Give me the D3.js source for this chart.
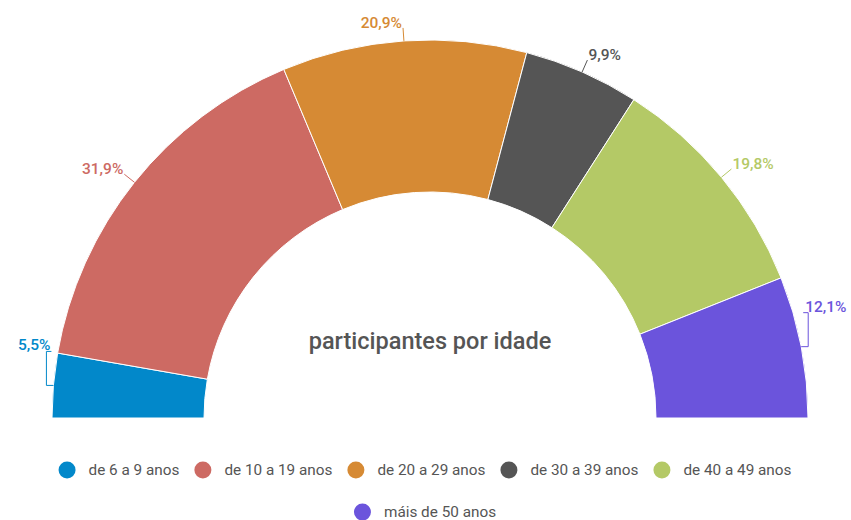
<!DOCTYPE html>
<html>
<head>
<meta charset="utf-8">
<script src="https://cdn.jsdelivr.net/npm/d3@7/dist/d3.min.js"></script>
<style>
  html, body { margin: 0; padding: 0; background: #fff; }
  svg { display: block; font-family: Roboto, "Open Sans", sans-serif; }
</style>
</head>
<body>
<svg id="chart" width="851" height="520"></svg>
<script>
// Age groups of the participants and their shares (%)
const categories = ["de 6 a 9 anos", "de 10 a 19 anos", "de 20 a 29 anos", "de 30 a 39 anos", "de 40 a 49 anos", "máis de 50 anos"];
const values = [5.5, 31.9, 20.9, 9.9, 19.8, 12.1];
const valueLabels = ["5,5%", "31,9%", "20,9%", "9,9%", "19,8%", "12,1%"];
const colors = ["#0288ca", "#cd6a63", "#d68a34", "#555555", "#b4c966", "#6b54dc"];
const title = "participantes por idade";

const W = 851, H = 520;
const cx = 430, cy = 418;
const outerR = 378, innerR = 226;

const svg = d3.select("#chart");
const data = categories.map((c, i) => ({ cat: c, value: values[i], label: valueLabels[i], color: colors[i] }));

const pie = d3.pie()
  .value(d => d.value)
  .sort(null)
  .startAngle(-Math.PI / 2)
  .endAngle(Math.PI / 2);

const arcs = pie(data);
const arc = d3.arc().innerRadius(innerR).outerRadius(outerR);

const g = svg.append("g").attr("transform", `translate(${cx},${cy})`);

g.selectAll("path.slice")
  .data(arcs)
  .join("path")
  .attr("class", "slice")
  .attr("d", arc)
  .attr("fill", d => d.data.color)
  .attr("stroke", "#fff")
  .attr("stroke-width", 1);

// Value labels with leader lines
const lead = 13;
arcs.forEach(a => {
  const mid = (a.startAngle + a.endAngle) / 2;
  const sx = Math.sin(mid), sy = -Math.cos(mid);
  const px = outerR * sx, py = outerR * sy;
  const left = sx < 0;
  const nearBase = Math.abs(Math.abs(mid) - Math.PI / 2) < (15 * Math.PI / 180);
  let pts, tx, ty, anchor = left ? "end" : "start";
  if (nearBase) {
    // Labels close to the baseline are lifted with a bracket line
    const dir = left ? -1 : 1;
    const qx = px + dir * 7;
    const ry = py - 34;
    const stubX = qx - dir * 5;
    pts = [[px, py], [qx, py], [qx, ry], [stubX, ry]];
    tx = left ? stubX - 1 : stubX + 2; ty = ry - 1;
  } else {
    const ex = (outerR + lead) * sx, ey = (outerR + lead) * sy;
    pts = [[px, py], [ex, ey]];
    tx = ex + (left ? -1 : 1); ty = ey;
  }
  g.append("path")
    .attr("d", d3.line()(pts))
    .attr("fill", "none")
    .attr("stroke", a.data.color)
    .attr("stroke-width", 1);
  g.append("text")
    .attr("x", tx).attr("y", ty)
    .attr("text-anchor", anchor)
    .attr("fill", a.data.color)
    .attr("font-size", 15.5)
    .attr("font-weight", 500)
    .text(a.data.label);
});

// Centre title
svg.append("text")
  .attr("x", cx).attr("y", 349)
  .attr("text-anchor", "middle")
  .attr("fill", "#555555")
  .attr("font-size", 23.5)
  .attr("font-weight", 500)
  .text(title);

// Legend, wrapped into centred rows
const legend = svg.append("g");
const r = 8.5, gapIn = 13, gapOut = 15, maxRow = 780, rowY = [470, 512], legendCx = 425;
const items = data.map(d => {
  const grp = legend.append("g");
  grp.append("circle").attr("r", r).attr("cx", r).attr("cy", 0).attr("fill", d.color);
  const t = grp.append("text")
    .attr("x", 2 * r + gapIn).attr("y", 5)
    .attr("fill", "#555555")
    .attr("font-size", 15.3)
    .text(d.cat);
  const w = 2 * r + gapIn + t.node().getComputedTextLength();
  return { grp, w };
});
const rows = [[]];
let cur = 0;
items.forEach(it => {
  const add = (rows[rows.length - 1].length ? gapOut : 0) + it.w;
  if (cur + add > maxRow && rows[rows.length - 1].length) { rows.push([it]); cur = it.w; }
  else { rows[rows.length - 1].push(it); cur += add; }
});
rows.forEach((row, ri) => {
  const total = d3.sum(row, d => d.w) + gapOut * (row.length - 1);
  let x = legendCx - total / 2;
  row.forEach(it => {
    it.grp.attr("transform", `translate(${x},${rowY[ri]})`);
    x += it.w + gapOut;
  });
});
</script>
</body>
</html>
